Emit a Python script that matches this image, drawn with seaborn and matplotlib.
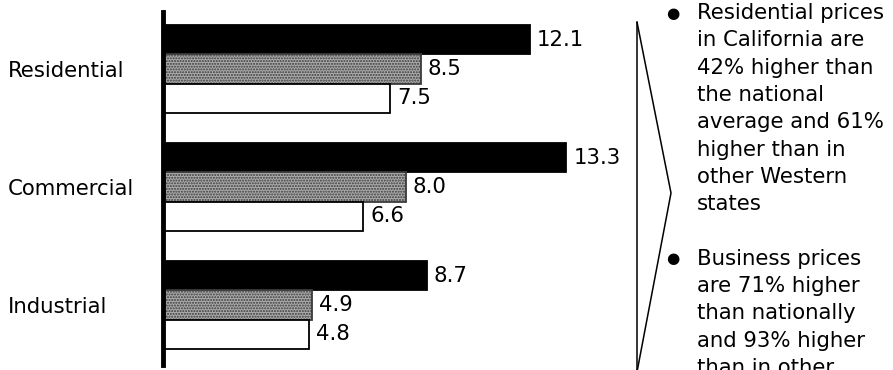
import matplotlib
matplotlib.use("Agg")
import matplotlib.pyplot as plt
from matplotlib.lines import Line2D
import pandas as pd
import seaborn as sns

# Average electricity prices by sector (cents/kWh)
sectors = ["Residential", "Commercial", "Industrial"]
regions = ["California", "U.S. average", "Other Western states"]
california = [12.1, 13.3, 8.7]
us_average = [8.5, 8.0, 4.9]
other_western = [7.5, 6.6, 4.8]

bullet_1 = ["Residential prices", "in California are", "42% higher than",
            "the national", "average and 61%", "higher than in",
            "other Western", "states"]
bullet_2 = ["Business prices", "are 71% higher", "than nationally",
            "and 93% higher", "than in other"]

df = pd.DataFrame({
    "sector": sectors * 3,
    "region": [r for r in regions for _ in sectors],
    "price": california + us_average + other_western,
})

sns.set_style("white")
plt.rcParams["font.family"] = ["DejaVu Sans"]
plt.rcParams["text.color"] = "black"
plt.rcParams["ytick.color"] = "black"
plt.rcParams["ytick.labelcolor"] = "black"
FS = 15.3

W, H = 893, 370
fig = plt.figure(figsize=(W / 100, H / 100), dpi=100)
ax = fig.add_axes([163 / W, 5 / H, 467 / W, 353 / H])

sns.barplot(data=df, y="sector", x="price", hue="region", hue_order=regions,
            order=sectors, orient="h", palette=["black", "#ababab", "white"],
            width=0.745, gap=0, legend=False, ax=ax, saturation=1,
            edgecolor="black", linewidth=1.3)

# stipple texture on the middle series
plt.rcParams["hatch.color"] = "#5e5e5e"
for patch in ax.containers[1]:
    patch.set_hatch("......")
    patch.set_edgecolor("#3a3a3a")

for cont in ax.containers:
    vals = [p.get_width() for p in cont]
    ax.bar_label(cont, labels=[f"{v:.1f}" for v in vals], padding=5,
                 fontsize=FS, color="black")

ax.set_xlim(0, 467 / 30.33)
ax.set_ylim(2.508, -0.483)
ax.set_xlabel("")
ax.set_ylabel("")
ax.set_xticks([])
for s in ["top", "right", "bottom"]:
    ax.spines[s].set_visible(False)
ax.spines["left"].set_linewidth(3.5)
ax.spines["left"].set_color("black")
ax.tick_params(axis="y", length=0, pad=112, labelsize=FS, labelcolor="black")
for lab in ax.get_yticklabels():
    lab.set_horizontalalignment("left")

# chevron pointing at the commentary
def fx(x):
    return x / W

def fy(y):
    return 1 - y / H

fig.add_artist(Line2D([fx(637), fx(637)], [fy(22), fy(372)], color="black", lw=1.1))
fig.add_artist(Line2D([fx(637), fx(671), fx(637)], [fy(22), fy(193), fy(372)],
                      color="black", lw=1.1))

# commentary bullets
base, step = 19, 27.3
for i, line in enumerate(bullet_1):
    fig.text(fx(697), fy(base + i * step), line, fontsize=FS, va="baseline",
             ha="left", color="black")
for i, line in enumerate(bullet_2):
    fig.text(fx(697), fy(base + (i + 9) * step), line, fontsize=FS, va="baseline",
             ha="left", color="black")
for k in (0, 9):
    fig.text(fx(673), fy(base + k * step - 6), "\u25cf", fontsize=11,
             va="center", ha="center", color="black")

fig.savefig("out.png", dpi=100, facecolor="white")
